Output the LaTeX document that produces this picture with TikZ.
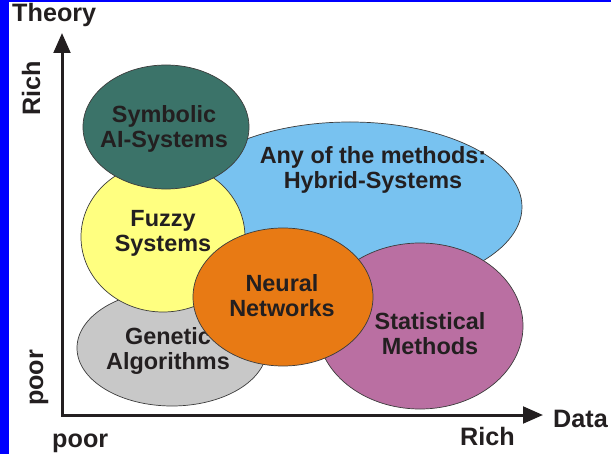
\documentclass[tikz,border=0pt]{standalone}
\usepackage{fontspec}
\setmainfont{Liberation Sans}
\usetikzlibrary{shapes.geometric,arrows.meta}
\definecolor{frameblue}{RGB}{0,0,255}
\definecolor{inkblack}{RGB}{35,31,32}
\definecolor{edgegray}{RGB}{60,60,60}
\definecolor{symteal}{RGB}{59,115,105}
\definecolor{hybblue}{RGB}{120,194,240}
\definecolor{fuzyellow}{RGB}{255,255,128}
\definecolor{genegray}{RGB}{200,200,200}
\definecolor{neurorange}{RGB}{232,122,20}
\definecolor{statpurple}{RGB}{186,111,162}

\begin{document}
\begin{tikzpicture}[
  x=0.03cm, y=-0.03cm,
  font=\bfseries\fontsize{20}{21.5}\selectfont,
  blob/.style={ellipse, draw=edgegray, line width=0.6pt, fill=#1, inner sep=0pt},
  lbl/.style={align=center, text=inkblack, inner sep=0pt},
  axislbl/.style={lbl, font=\bfseries\fontsize{21.5}{23}\selectfont},
  axis/.style={{Triangle[length=0.6cm,width=0.5cm]}-{Triangle[length=0.6cm,width=0.5cm]},
    line width=0.09cm, draw=inkblack}
]
\useasboundingbox (0,0) rectangle (611,454);

% frame edges
\fill[frameblue] (0,0) rectangle (9,454);
\fill[frameblue] (0,0) rectangle (611,2);

% methods
\node[blob=hybblue, minimum width=10.32cm, minimum height=5.1cm] (hybrid) at (350,207) {};
\node[lbl] (hybridtxt) at (373,170) {Any of the methods:\\Hybrid-Systems};

\node[blob=genegray, minimum width=5.7cm, minimum height=3.48cm] (genetic) at (172,348) {};
\node[lbl] (genetictxt) at (168,351) {Genetic\\Algorithms};

\node[blob=fuzyellow, minimum width=4.92cm, minimum height=4.5cm] (fuzzy) at (163,237) {};
\node[lbl] (fuzzytxt) at (163,233) {Fuzzy\\Systems};

\node[blob=symteal, minimum width=4.98cm, minimum height=3.72cm] (symbolic) at (166,127) {};
\node[lbl] (symbolictxt) at (164,129) {Symbolic\\AI-Systems};

\node[blob=statpurple, minimum width=6.18cm, minimum height=4.98cm] (statistical) at (420,326) {};
\node[lbl] (statisticaltxt) at (430,334) {Statistical\\Methods};

\node[blob=neurorange, minimum width=5.4cm, minimum height=4.14cm] (neural) at (283,297) {};
\node[lbl] (neuraltxt) at (282,296) {Neural\\Networks};

% axes
\coordinate (origin) at (62,415);
\coordinate (ytip) at (62,33);
\coordinate (xtip) at (543,415);
\draw[axis] (ytip) -- (origin) -- (xtip);

\node[axislbl, anchor=base west] (theory) at (12,22) {Theory};
\node[axislbl, anchor=base west] (data) at (553,427) {Data};
\node[axislbl, rotate=90] (richy) at (31,88) {Rich};
\node[axislbl, rotate=90] (poory) at (39,378) {poor};
\node[axislbl, anchor=base west] (poorx) at (52,447) {poor};
\node[axislbl, anchor=base west] (richx) at (460,445) {Rich};
\end{tikzpicture}
\end{document}
